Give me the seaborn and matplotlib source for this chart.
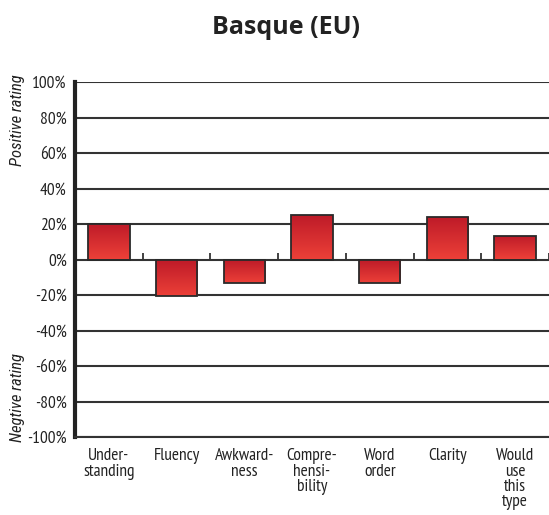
import numpy as np
import pandas as pd
import matplotlib
matplotlib.use("Agg")
import matplotlib.pyplot as plt
import seaborn as sns
from matplotlib import font_manager

# Data
categories = ["Under-\nstanding", "Fluency", "Awkward-\nness", "Compre-\nhensi-\nbility",
              "Word\norder", "Clarity", "Would\nuse\nthis\ntype"]
ratings = [20, -20.5, -13.5, 25, -13.5, 24, 13.5]
y_ticks = [-100, -80, -60, -40, -20, 0, 20, 40, 60, 80, 100]

title = "Basque (EU)"
pos_label = "Positive rating"
neg_label = "Negtive rating"

sns.set_theme(style="white")

# pick a condensed face close to the original (Myriad Condensed-like)
fonts = font_manager.fontManager.ttflist
names = {f.name for f in fonts}
italic_names = {f.name for f in fonts if f.style == "italic"}
candidates = ["PT Sans Narrow", "Roboto Condensed", "Open Sans Condensed",
              "Fira Sans Condensed", "Encode Sans Condensed", "Archivo Narrow",
              "IBM Plex Sans Condensed", "Liberation Sans Narrow", "Ubuntu Condensed",
              "Asap Condensed", "Barlow Semi Condensed", "DejaVu Sans"]
narrow = next(c for c in candidates if c in names)
narrow_it = next((c for c in candidates if c in italic_names), narrow)
plt.rcParams["font.family"] = [narrow, "DejaVu Sans"]
fs = 12.5 if narrow != "DejaVu Sans" else 9.5

df = pd.DataFrame({"category": categories, "rating": ratings})

fig = plt.figure(figsize=(5.49, 5.15), dpi=100)
ax = fig.add_axes([75 / 549, 78 / 515, 1 - 75 / 549, 355 / 515])

sns.barplot(data=df, x="category", y="rating", ax=ax, width=0.61,
            color="#d32a2a", edgecolor="#2a2a2a", linewidth=1.3, zorder=3)

# gradient fill: darker red on top, lighter at bottom
grad = np.linspace(0, 1, 256).reshape(-1, 1)
cmap = matplotlib.colors.LinearSegmentedColormap.from_list("red", ["#bd1a28", "#ec4038"])
for p in ax.patches:
    x0, y0 = p.get_x(), p.get_y()
    w, h = p.get_width(), p.get_height()
    ylo, yhi = min(y0, y0 + h), max(y0, y0 + h)
    img = ax.imshow(grad, cmap=cmap, aspect="auto", extent=[x0, x0 + w, ylo, yhi],
                    origin="upper", zorder=3)
    img.set_clip_path(p)
    p.set_facecolor("none")
    p.set_zorder(4)
ax.set_xlim(-0.5, len(categories) - 0.5)
ax.set_ylim(-100, 100)

# grid lines
for v in y_ticks:
    ax.axhline(v, color="#333333", linewidth=1.5, zorder=1)

# small separators on the zero line
seps = np.arange(len(categories)) + 0.5
ax.vlines(seps, 0, 3.5, color="#333333", linewidth=1.3, zorder=2)

ax.set_yticks(y_ticks)
ax.set_yticklabels([f"{v}%" for v in y_ticks], fontsize=fs, color="#222222")
ax.tick_params(axis="y", length=0, pad=6)
ax.tick_params(axis="x", length=0, pad=8)
ax.set_xticks(range(len(categories)))
ax.set_xticklabels(categories, fontsize=fs, color="#222222", va="top",
                   linespacing=0.95)
ax.set_xlabel("")
ax.set_ylabel("")

for s in ["top", "right"]:
    ax.spines[s].set_visible(False)
ax.spines["left"].set_linewidth(3)
ax.spines["left"].set_color("#222222")
ax.spines["bottom"].set_linewidth(1.5)
ax.spines["bottom"].set_color("#333333")

fig.text(286 / 549, 1 - 28 / 515, title, ha="center", va="center",
         fontsize=18, fontweight="bold", color="#222222",
         family=["Open Sans", "DejaVu Sans"])
fig.text(18 / 549, 1 - 120 / 515, pos_label, rotation=90, ha="center", va="center",
         fontsize=fs - 0.5, style="italic", color="#222222", family=[narrow_it, "DejaVu Sans"])
fig.text(18 / 549, 1 - 397 / 515, neg_label, rotation=90, ha="center", va="center",
         fontsize=fs - 0.5, style="italic", color="#222222", family=[narrow_it, "DejaVu Sans"])

fig.savefig("out.png", dpi=100)
